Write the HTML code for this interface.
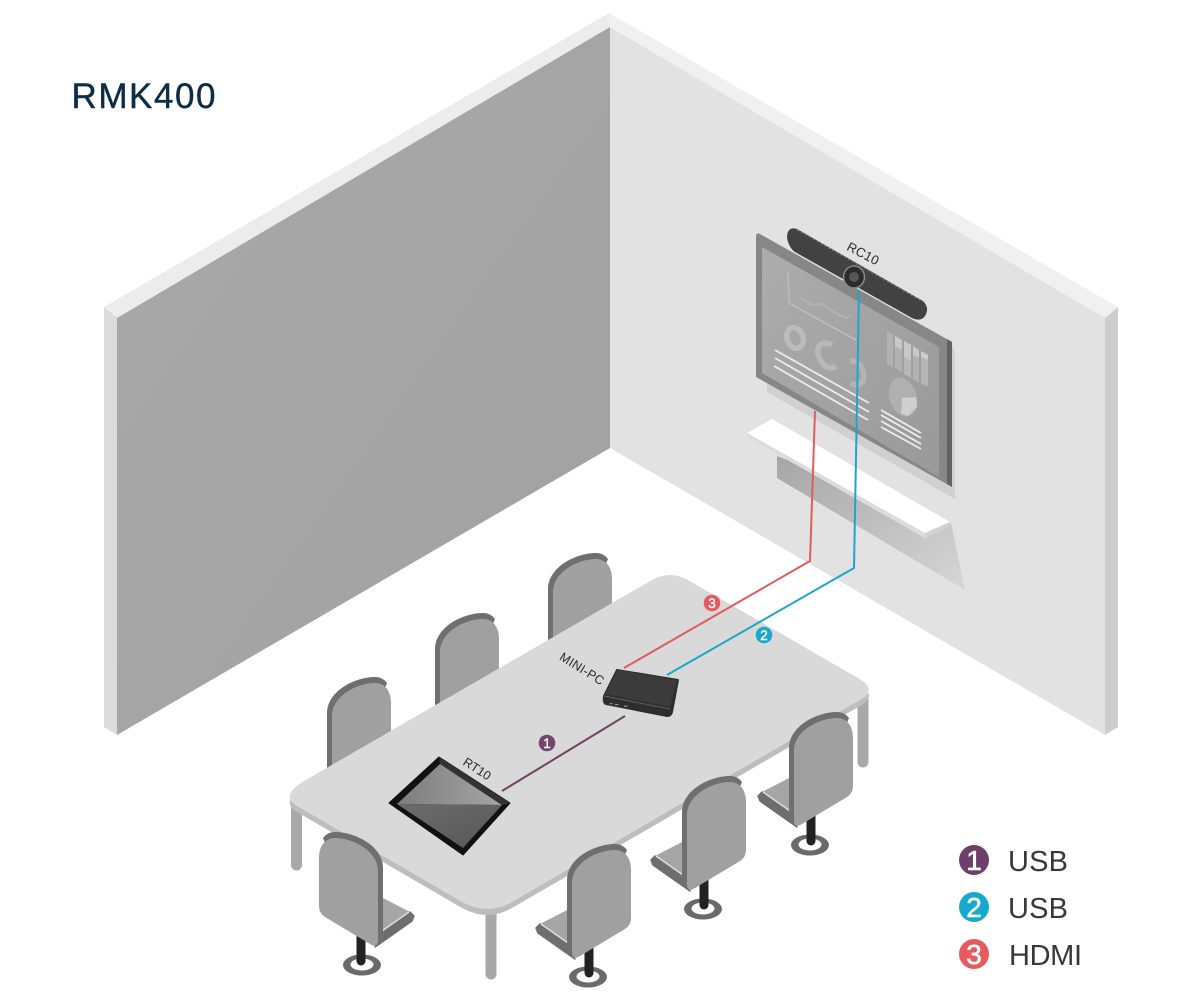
<!DOCTYPE html>
<html>
<head>
<meta charset="utf-8">
<style>
html,body{margin:0;padding:0;background:#fff;width:1200px;height:1000px;overflow:hidden}
svg{display:block}
text{font-family:"Liberation Sans",sans-serif}
</style>
</head>
<body>
<svg width="1200" height="1000" viewBox="0 0 1200 1000" xmlns="http://www.w3.org/2000/svg">
<defs>
<linearGradient id="lw" x1="0" y1="0" x2="1" y2="1"><stop offset="0" stop-color="#a9a9a9"/><stop offset="1" stop-color="#a1a1a1"/></linearGradient>
<linearGradient id="scr" x1="0" y1="0" x2="1" y2="1"><stop offset="0" stop-color="#adadad"/><stop offset="1" stop-color="#999"/></linearGradient>
<linearGradient id="shelfsh" x1="0" y1="0" x2="1" y2="1"><stop offset="0" stop-color="#a6a6a6"/><stop offset="1" stop-color="#d6d6d6"/></linearGradient>
<linearGradient id="tab1" x1="0" y1="0" x2="1" y2="0"><stop offset="0" stop-color="#7c7c7c"/><stop offset="1" stop-color="#a5a5a5"/></linearGradient>
<linearGradient id="tab2" x1="0" y1="0" x2="1" y2="1"><stop offset="0" stop-color="#6c6c6c"/><stop offset="1" stop-color="#575757"/></linearGradient>
<g id="back">
<path d="M682,880 V812 C682,790 710,776 730,776 C735,776 739,778 742,782 L700,880 L690,890 Q682,888 682,880 Z" fill="#6f6f6f"/>
<path d="M687,884 V815 C687,795 712,782 730,782 C740,782 746,790 746,802 V850 Q746,857 740,861 L695,888 Q687,893 687,884 Z" fill="#a0a0a0"/>
</g>
<g id="chair">
<ellipse cx="703" cy="909" rx="19" ry="10.5" fill="#6a6a6a"/>
<ellipse cx="703" cy="908.5" rx="11.5" ry="6" fill="#fff"/>
<line x1="704" y1="880" x2="704" y2="905" stroke="#222" stroke-width="9" stroke-linecap="round"/>
<polygon points="655,856 684,841 684,877" fill="#a5a5a5"/>
<path d="M651,860 L655,856 L684,876 L684,881 L690,891 L653,865 Z" fill="#6e6e6e" stroke="#6e6e6e" stroke-width="1.5" stroke-linejoin="round"/>
<line x1="656" y1="856" x2="683" y2="875" stroke="#dedede" stroke-width="1.5"/>
<use href="#back"/>
</g>
</defs>

<rect width="1200" height="1000" fill="#fff"/>

<!-- Walls -->
<polygon points="104,307 609,13 610,27 117,318" fill="#ececec"/>
<polygon points="104,307 117,318 117,735 104,727" fill="#dcdcdc"/>
<polygon points="117,318 610,27 610,448 117,735" fill="url(#lw)"/>
<polygon points="609,13 1118,307 1105,318 610,27" fill="#f0f0f0"/>
<polygon points="610,27 1105,318 1105,735 610,448" fill="#e2e2e2"/>
<polygon points="1105,318 1118,307 1118,727 1105,735" fill="#cdcdcd"/>

<text x="71.5" y="108" font-size="35" textLength="144" lengthAdjust="spacing" fill="#0c2d47" stroke="#0c2d47" stroke-width="0.4">RMK400</text>

<!-- TV shadow -->
<polygon points="767,378 952,345 955,353 955,499 767,392" fill="#d0d0d0"/>
<!-- TV -->
<path d="M756,237 Q756,232 760,234 L952,342 V487 L756,377 Z" fill="#878787"/>
<polygon points="947,339 952,342 952,487 947,484" fill="#626262"/>
<polygon points="762,247 939,347 939,477 762,373" fill="url(#scr)"/>
<!-- Screen graphics -->
<g fill="none">
<polyline points="788,271 789,303 856,340" stroke="#bcbcbc" stroke-width="1.6"/>
<polyline points="800,298 812,305 822,304 834,312 846,318 851,316" stroke="#b2b2b2" stroke-width="2"/>
<ellipse cx="795" cy="338" rx="8" ry="10.5" stroke="#bcbcbc" stroke-width="5.5" transform="rotate(-20 795 338)"/>
<path d="M832,345 C822,340 816,346 818,354 C820,364 830,372 836,366" stroke="#b8b8b8" stroke-width="5.5"/>
<path d="M850,361 C860,360 866,372 863,380 C861,386 855,386 851,383" stroke="#b4b4b4" stroke-width="5.5"/>
</g>
<g stroke="#ececec" stroke-width="1.8">
<line x1="775" y1="350" x2="869" y2="403"/>
<line x1="775" y1="358" x2="869" y2="412"/>
<line x1="774" y1="366" x2="868" y2="420"/>
<line x1="881" y1="410" x2="921" y2="433"/>
<line x1="881" y1="415" x2="921" y2="438"/>
<line x1="881" y1="421" x2="921" y2="444"/>
<line x1="881" y1="427" x2="921" y2="449"/>
</g>
<g>
<polygon points="887,331 893,335 893,367 887,364" fill="#b2b2b2"/>
<polygon points="895,336 902,340 902,372 895,368" fill="#b2b2b2"/>
<polygon points="904,341 911,345 911,378 904,374" fill="#b6b6b6"/>
<polygon points="913,346 919,350 919,383 913,379" fill="#b2b2b2"/>
<polygon points="921,351 928,355 928,386 921,384" fill="#b6b6b6"/>
<polygon points="895,336 902,340 902,350 895,346" fill="#c8c8c8"/>
<polygon points="904,341 911,345 911,361 904,357" fill="#c8c8c8"/>
<polygon points="913,346 919,350 919,358 913,355" fill="#c8c8c8"/>
<polygon points="921,351 928,355 928,360 921,357" fill="#cccccc"/>
</g>
<ellipse cx="903" cy="397" rx="13.5" ry="20" fill="#b0b0b0" transform="rotate(-18 903 397)"/>
<polygon points="902,398 916,397 917,407 908,416 901,414" fill="#cfcfcf"/>

<!-- Camera bar -->
<path d="M797,229 L923,301 Q930,308 925,316 Q921,322 912,318 L795,252 Q789,248 787,238 Q787,226 797,229 Z" fill="#424242"/>
<path d="M797,230 L923,302" stroke="#7d7d7d" stroke-width="0.8" stroke-dasharray="2.5 2" fill="none"/>
<ellipse cx="854" cy="277" rx="10.5" ry="11" fill="#2c2c2c" stroke="#8a8a8a" stroke-width="1.5"/>
<circle cx="854" cy="277" r="5" fill="#575757"/>
<text x="863" y="258" font-size="13" letter-spacing="0.3" fill="#2b2b2b" text-anchor="middle" transform="rotate(28 863 254)">RC10</text>

<!-- Shelf -->
<polygon points="777,456 951,523 965,590 777,478" fill="url(#shelfsh)"/>
<polygon points="747,433 925,533 925,538 747,437" fill="#dcdcdc"/>
<polygon points="747,433 772,419 950,522 925,533" fill="#ffffff"/>
<polygon points="925,533 950,522 950,526 925,539" fill="#d2d2d2"/>

<!-- Table legs -->
<line x1="296.5" y1="800" x2="296.5" y2="865" stroke="#a8a8a8" stroke-width="11" stroke-linecap="round"/>
<line x1="491" y1="905" x2="491" y2="974" stroke="#a8a8a8" stroke-width="11" stroke-linecap="round"/>
<line x1="863" y1="695" x2="863" y2="762" stroke="#a8a8a8" stroke-width="11" stroke-linecap="round"/>

<!-- Back chairs -->
<use href="#back" transform="translate(-134,-223)"/>
<use href="#back" transform="translate(-247,-163)"/>
<use href="#back" transform="translate(-355,-99)"/>

<!-- Table -->
<path d="M304,787 L652,586 Q670,576 688,586 L858,684 Q872,692 868,699 Q866,703 860,706 L512,908 Q488,922 462,908 L297,812 Q288,806 290,801 Q291,795 304,787 Z" fill="#bdbdbd"/>
<path d="M304,781 L652,580 Q670,570 688,580 L858,678 Q872,686 868,693 Q866,697 860,700 L512,902 Q488,916 462,902 L297,806 Q288,800 290,795 Q291,789 304,781 Z" fill="#d9d9d9"/>

<!-- Wires -->
<polyline points="815,411 810,561 624,668" fill="none" stroke="#e05c5e" stroke-width="2"/>
<polyline points="859,290 854,568 667,675" fill="none" stroke="#1ba8c8" stroke-width="2"/>
<line x1="502" y1="791" x2="625" y2="716" stroke="#6f4265" stroke-width="2"/>

<!-- Tablet -->
<polygon points="389,803 439,757 510,803 463,855" fill="#111" stroke="#111" stroke-width="1" stroke-linejoin="round"/>
<polygon points="439,757 510,803 503,805 440,764" fill="#333"/>
<polygon points="397,804 440,764 502,805" fill="url(#tab1)"/>
<polygon points="397,804 502,805 463,848" fill="url(#tab2)"/>
<text x="477" y="773" font-size="12.5" fill="#2b2b2b" text-anchor="middle" transform="rotate(33 477 769)">RT10</text>

<!-- Mini PC -->
<path d="M604,696 L617,670 L678,680 L672,712 Q671,716 667,716 L606,704 Q603,703 604,696 Z" fill="#2e2e2e" stroke="#2e2e2e" stroke-width="2" stroke-linejoin="round"/>
<polygon points="605,694 618,670 677,680 670,707" fill="#3b3b3b"/>
<line x1="604" y1="696" x2="670" y2="709" stroke="#5e5e5e" stroke-width="1"/>
<g fill="#8a8a8a"><rect x="610" y="703" width="2.5" height="1.3"/><rect x="615" y="704" width="3.5" height="1.3"/><rect x="624" y="705.5" width="3.5" height="1.3"/></g>
<text x="582" y="673" font-size="12.5" letter-spacing="0.3" fill="#2b2b2b" text-anchor="middle" transform="rotate(32 582 669)">MINI-PC</text>

<!-- Badges -->
<circle cx="547" cy="743" r="8.3" fill="#74446f"/>
<text x="547" y="748" font-size="13.5" fill="#fff" stroke="#fff" stroke-width="0.4" text-anchor="middle">1</text>
<circle cx="764" cy="635" r="8.3" fill="#1ba8cf"/>
<text x="764" y="640" font-size="13.5" fill="#fff" stroke="#fff" stroke-width="0.4" text-anchor="middle">2</text>
<circle cx="712" cy="603" r="8.3" fill="#e85a5d"/>
<text x="712" y="608" font-size="13.5" fill="#fff" stroke="#fff" stroke-width="0.4" text-anchor="middle">3</text>

<!-- Front chairs -->
<use href="#chair" transform="translate(107,-64)"/>
<use href="#chair"/>
<use href="#chair" transform="translate(-115,68)"/>
<use href="#chair" transform="translate(1065,56) scale(-1,1)"/>

<!-- Legend -->
<circle cx="974" cy="860" r="15" fill="#6f3f6b"/>
<text x="974" y="870" font-size="28" fill="#fff" stroke="#fff" stroke-width="0.6" text-anchor="middle">1</text>
<circle cx="974" cy="907" r="15" fill="#16a9cf"/>
<text x="974" y="917" font-size="28" fill="#fff" stroke="#fff" stroke-width="0.6" text-anchor="middle">2</text>
<circle cx="974" cy="954" r="15" fill="#e85a5d"/>
<text x="974" y="964" font-size="28" fill="#fff" stroke="#fff" stroke-width="0.6" text-anchor="middle">3</text>
<g font-size="29" fill="#383838">
<text x="1008" y="871" textLength="60" lengthAdjust="spacing">USB</text>
<text x="1008" y="918" textLength="60" lengthAdjust="spacing">USB</text>
<text x="1009" y="965" textLength="73" lengthAdjust="spacing">HDMI</text>
</g>
</svg>
</body>
</html>
